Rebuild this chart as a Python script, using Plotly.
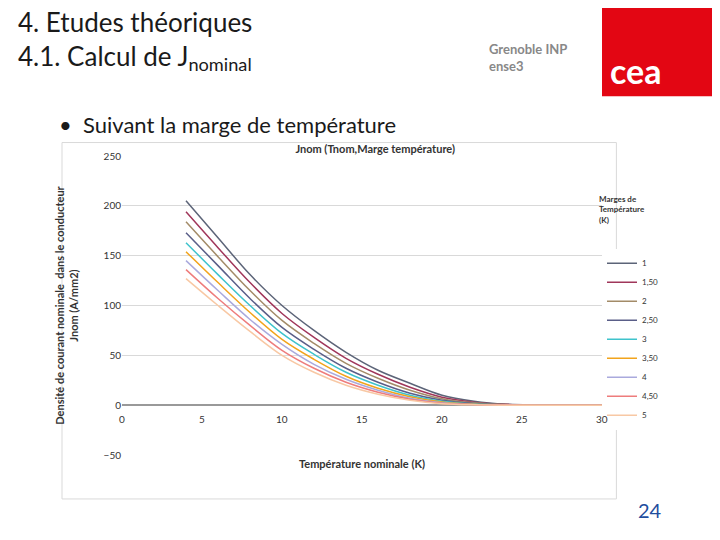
import plotly.graph_objects as go

temps = [4, 6, 8, 10, 12, 14, 16, 18, 20, 22, 24, 26, 28, 30]
marges = ["1", "1,50", "2", "2,50", "3", "3,50", "4", "4,50", "5"]
jnom = [
    [205, 168, 131, 100, 75, 53, 35, 22, 10, 4, 1, 0.3, 0, 0],
    [194, 158, 123, 92, 68, 47, 31, 18, 8, 3, 0.8, 0.2, 0, 0],
    [184, 149, 115, 85, 62, 42, 27, 15, 6.5, 2.3, 0.6, 0.1, 0, 0],
    [173, 140, 107, 78, 56, 37, 23, 12, 5, 1.7, 0.4, 0.1, 0, 0],
    [163, 131, 100, 72, 51, 33, 20, 10, 4, 1.2, 0.3, 0, 0, 0],
    [154, 123, 93, 66, 46, 29, 17, 8.5, 3.2, 0.9, 0.2, 0, 0, 0],
    [145, 115, 86, 61, 41, 26, 15, 7, 2.5, 0.6, 0.1, 0, 0, 0],
    [136, 107, 80, 55, 37, 23, 13, 6, 2, 0.5, 0.1, 0, 0, 0],
    [127, 100, 74, 50, 33, 20, 11, 5, 1.5, 0.3, 0, 0, 0, 0],
]
x_ticks = [0, 5, 10, 15, 20, 25, 30]
colors = ["#5c6478", "#a0365a", "#a38b68", "#5a5e88", "#3fc3cc",
          "#f2a41c", "#aaaadd", "#ee7c7c", "#f8c8a4"]

fig = go.Figure()
for m, y, c in zip(marges, jnom, colors):
    fig.add_trace(go.Scatter(x=temps, y=y, name=m, mode="lines",
                             line=dict(color=c, width=1.5, shape="spline")))

# x tick labels sit on the y=0 line, as in the original chart
tick_notes = [dict(text=str(t), x=t, y=0, xref="x", yref="y", yshift=-14,
                   showarrow=False, font=dict(size=10, color="#333")) for t in x_ticks]

fig.update_layout(
    width=720, height=540,
    margin=dict(l=114, r=126, t=148, b=93),
    paper_bgcolor="white", plot_bgcolor="white",
    font=dict(family="Lato, Open Sans, sans-serif", color="#333"),
    title=dict(text="<b>Jnom (Tnom,Marge température)</b>", x=0.51, y=0.745,
               xanchor="center", font=dict(size=11, color="#333")),
    xaxis=dict(range=[0, 30], dtick=5, showgrid=False, zeroline=False,
               showline=False, showticklabels=False,
               title=dict(text="<b>Température nominale (K)</b>", font=dict(size=11),
                          standoff=5)),
    yaxis=dict(range=[-50, 250], dtick=50, gridcolor="#d9d9d9",
               zeroline=True, zerolinecolor="#999", tickfont=dict(size=10),
               title=dict(text="<b>Densité de courant nominale  dans le conducteur<br>Jnom (A/mm2)</b>",
                          font=dict(size=11), standoff=22)),
    legend=dict(x=1.0, y=0.69, xanchor="left", yanchor="top",
                font=dict(size=8), tracegroupgap=0, itemwidth=30),
    shapes=[
        dict(type="rect", xref="paper", yref="paper", x0=-0.125, x1=1.03, y0=-0.147, y1=1.045,
             line=dict(color="#d9d9d9", width=1)),
        dict(type="rect", xref="paper", yref="paper", x0=1.0, x1=1.3, y0=1.2, y1=1.6,
             fillcolor="#e30613", line=dict(width=0)),
    ],
    annotations=tick_notes + [
        dict(text="<b>Marges de<br>Température<br>(K)</b>", xref="paper", yref="paper",
             x=0.99, y=0.88, xanchor="left", yanchor="top", align="left",
             showarrow=False, font=dict(size=8)),
        dict(text="4. Etudes théoriques<br>4.1. Calcul de J<sub>nominal</sub>",
             xref="paper", yref="paper", x=-0.22, y=1.51, xanchor="left", yanchor="top",
             align="left", showarrow=False, font=dict(size=26, color="#1a1a1a")),
        dict(text="•  Suivant la marge de température", xref="paper", yref="paper",
             x=-0.135, y=1.055, xanchor="left", yanchor="bottom", showarrow=False,
             font=dict(size=22, color="#1a1a1a")),
        dict(text="<b>cea</b>", xref="paper", yref="paper", x=1.13, y=1.36,
             showarrow=False, font=dict(size=34, color="white")),
        dict(text="<b>Grenoble INP<br>ense3</b>", xref="paper", yref="paper", x=0.76, y=1.39,
             xanchor="left", showarrow=False, align="left", font=dict(size=13, color="#888")),
        dict(text="24", xref="paper", yref="paper", x=1.13, y=-0.232,
             showarrow=False, font=dict(size=20, color="#1f4e9e")),
    ],
)

fig.write_html("out.html")
